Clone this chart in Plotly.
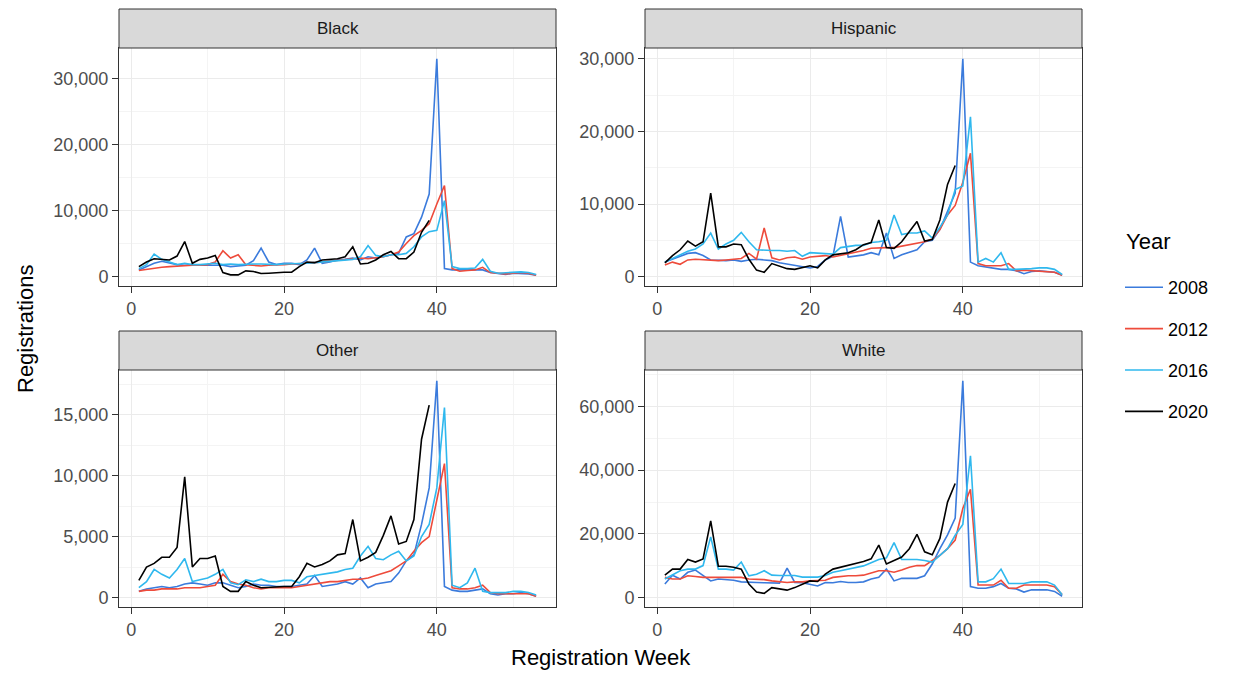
import plotly.graph_objects as go
from plotly.subplots import make_subplots

weeks = list(range(1, 54))
years = ["2008", "2012", "2016", "2020"]
year_colors = ["#3B7BDC", "#EE4B3B", "#2FB8EE", "#000000"]
races = ["Black", "Hispanic", "Other", "White"]

black_2008 = [1000, 1500, 2000, 2300, 2000, 1800, 1700, 1800, 1700, 1700,
              1800, 1700, 1500, 1600, 1700, 2400, 4300, 2200, 1800, 2000,
              2000, 1800, 2500, 4300, 2000, 2200, 2500, 2600, 2800, 2500,
              3000, 2800, 3000, 3200, 3500, 6000, 6500, 9000, 12500, 33000,
              1200, 1000, 1000, 1000, 1100, 1000, 600, 500, 300, 500, 500, 400, 200]
black_2012 = [900, 1100, 1300, 1400, 1500, 1600, 1600, 1700, 1700, 1800,
              2200, 3900, 2800, 3300, 1800, 1700, 1600, 1700, 1700, 1800,
              1900, 1900, 2000, 2100, 2200, 2300, 2500, 2600, 2700, 2800,
              2700, 2800, 3000, 3300, 3700, 5000, 6200, 7000, 8000, 11000,
              13800, 1200, 800, 900, 1000, 1400, 600, 500, 400, 500, 600, 500, 200]
black_2016 = [1200, 1800, 3400, 2600, 2200, 1800, 2000, 1800, 1800, 1900,
              2000, 1800, 1900, 1800, 1900, 1900, 1900, 1800, 1800, 1900,
              1900, 1900, 2000, 2100, 2200, 2300, 2400, 2500, 2600, 3000,
              4700, 3200, 3000, 3300, 3300, 3500, 4500, 6000, 6800, 7000,
              11500, 1500, 1200, 1200, 1300, 2600, 800, 500, 600, 700, 700, 600, 300]
black_2020 = [1500, 2200, 2700, 2600, 2500, 3100, 5300, 2000, 2600, 2800,
              3200, 600, 250, 250, 850, 750, 450, 500, 600, 650,
              650, 1500, 2200, 2100, 2500, 2600, 2700, 3000, 4500, 1900,
              2000, 2500, 3300, 3800, 2700, 2700, 3700, 6700, 8500]

hispanic_2008 = [2000, 2400, 2800, 3200, 3300, 2900, 2300, 2200, 2200, 2300,
                 2100, 2300, 2400, 2300, 2200, 1900, 1700, 1500, 1400, 1200,
                 1400, 2300, 2800, 8300, 2700, 2800, 3000, 3300, 3000, 6000,
                 2500, 3000, 3300, 3700, 4800, 5000, 6500, 9000, 11500, 30000,
                 2000, 1500, 1300, 1200, 1000, 1000, 800, 400, 700, 800, 700, 600, 200]
hispanic_2012 = [1600, 2000, 1700, 2300, 2400, 2300, 2200, 2200, 2300, 2400,
                 2500, 3200, 2400, 6700, 2600, 2300, 2600, 2700, 2400, 2700,
                 2800, 2900, 2700, 2900, 3200, 3300, 3600, 3900, 4000, 4000,
                 4000, 4200, 4400, 4600, 4800, 5200, 6500, 8500, 9800, 13000,
                 17000, 1800, 1500, 1500, 1500, 1800, 800, 900, 800, 700, 700, 600, 200]
hispanic_2016 = [2000, 2500, 3000, 3500, 3800, 4500, 6000, 3800, 4500, 5000,
                 6100, 4800, 3700, 3600, 3600, 3600, 3500, 3600, 2800, 3300,
                 3200, 3200, 3100, 4000, 4200, 4300, 4300, 4700, 4800, 5000,
                 8500, 5800, 6000, 6000, 6300, 5300, 6800, 8500, 12000, 12500,
                 22000, 2000, 2500, 2000, 3300, 1000, 1000, 1000, 1100, 1200, 1200, 1000, 300]
hispanic_2020 = [1900, 2900, 3700, 4900, 4200, 4800, 11500, 4100, 4100, 4500,
                 4400, 2400, 900, 600, 1800, 1400, 1100, 1000, 1300, 1500,
                 1200, 2300, 3000, 3100, 3300, 3700, 4400, 4700, 7800, 4000,
                 3900, 4800, 6200, 7600, 4900, 5100, 7800, 12700, 15300]

other_2008 = [500, 700, 800, 900, 800, 900, 1100, 1200, 1100, 1000,
              1200, 1200, 1000, 800, 900, 1100, 1000, 1000, 900, 900,
              900, 1000, 1100, 1800, 900, 1000, 1100, 1300, 1100, 1600,
              800, 1100, 1200, 1300, 2000, 3000, 3500, 6000, 9000, 17800,
              900, 600, 500, 500, 600, 700, 300, 200, 300, 300, 400, 300, 100]
other_2012 = [500, 600, 600, 700, 700, 700, 800, 800, 800, 900,
              1000, 1900, 1300, 1100, 1000, 800, 700, 800, 800, 800,
              800, 900, 1000, 1100, 1200, 1300, 1300, 1400, 1500, 1500,
              1600, 1800, 2000, 2200, 2600, 3000, 3800, 4500, 5000, 8000,
              11000, 800, 700, 700, 800, 1000, 400, 300, 300, 300, 300, 300, 100]
other_2016 = [800, 1300, 2300, 1900, 1600, 2300, 3200, 1300, 1450, 1600,
              1900, 2300, 1200, 1050, 1450, 1300, 1500, 1300, 1300, 1400,
              1400, 1200, 1700, 1800, 1950, 2000, 2100, 2300, 2400, 3400,
              4200, 3200, 3100, 3500, 3800, 3000, 3400, 5000, 6000, 9000,
              15600, 1000, 800, 1200, 2400, 500, 400, 400, 400, 500, 500, 400, 200]
other_2020 = [1400, 2500, 2800, 3300, 3300, 4100, 9900, 2500, 3200, 3200,
              3400, 900, 500, 500, 1300, 1000, 800, 850, 850, 900,
              900, 1700, 2800, 2500, 2700, 3000, 3500, 3600, 6400, 3000,
              3300, 3700, 5100, 6700, 4400, 4600, 6400, 13000, 15800]

white_2008 = [4300, 7100, 5900, 8000, 8700, 6900, 5300, 5900, 5700, 5500,
              5000, 4800, 4800, 4700, 4700, 4600, 9300, 4800, 4700, 4300,
              3700, 4800, 4700, 5100, 4800, 4800, 5000, 5900, 6400, 9000,
              5300, 6100, 6100, 6100, 6900, 10600, 15400, 19700, 25000, 68000,
              3500, 3000, 3000, 3500, 4500, 3000, 2800, 1800, 2500, 2500, 2500, 2000, 500]
white_2012 = [6400, 5900, 5900, 6900, 6700, 6400, 6400, 6400, 6400, 6400,
              6400, 5900, 5900, 5700, 5300, 5000, 4800, 5000, 5000, 5300,
              5300, 5500, 6400, 6700, 6900, 6900, 7100, 7800, 8500, 8500,
              8000, 8700, 9600, 10100, 10100, 11700, 13300, 15400, 18100, 28000,
              34000, 4000, 4000, 4000, 5500, 3000, 3000, 4000, 4000, 4000, 4000, 3500, 1000]
white_2016 = [5900, 7100, 8500, 9000, 9000, 10100, 19100, 9000, 9000, 8700,
              11200, 6900, 7400, 8500, 7100, 7000, 7000, 7000, 6500, 6500,
              6500, 7000, 8000, 8500, 9000, 9500, 10000, 11000, 12000, 12500,
              17300, 12000, 12000, 12000, 11700, 11200, 13300, 15400, 19600, 23000,
              44500, 5000, 5000, 6000, 9000, 4500, 4500, 4500, 5000, 5000, 5000, 4000, 1000]
white_2020 = [7100, 9000, 9000, 12000, 11200, 12200, 24100, 9900, 9900, 9600,
              9000, 4300, 1800, 1400, 3200, 2900, 2400, 3200, 4300, 5300,
              5100, 7400, 9000, 9600, 10100, 10900, 11400, 12200, 16500, 10600,
              11700, 12800, 15400, 19900, 14400, 13500, 18600, 30000, 35800]

series = {
    "Black": [black_2008, black_2012, black_2016, black_2020],
    "Hispanic": [hispanic_2008, hispanic_2012, hispanic_2016, hispanic_2020],
    "Other": [other_2008, other_2012, other_2016, other_2020],
    "White": [white_2008, white_2012, white_2016, white_2020],
}
y_ticks = {
    "Black": [0, 10000, 20000, 30000],
    "Hispanic": [0, 10000, 20000, 30000],
    "Other": [0, 5000, 10000, 15000],
    "White": [0, 20000, 40000, 60000],
}
x_ticks = [0, 20, 40]

# the page body adds an 8px margin, so the figure is laid out in screen pixels minus that
OFF = 8
W, H = 1236 - OFF, 675 - OFF
FONT = "Liberation Sans, Arial, sans-serif"


def px(x):
    return (x - OFF) / W


def py(y):
    return 1 - (y - OFF) / H


# panel boxes in screen pixels: (left, right), (top, bottom); strip sits above
cols_px = [(119, 556), (645, 1082)]
rows_px = [(48, 286), (370, 607)]
strip_h = 39

fig = make_subplots(rows=2, cols=2)

for i, race in enumerate(races):
    r, c = divmod(i, 2)
    for j, yr in enumerate(years):
        vals = series[race][j]
        fig.add_trace(go.Scatter(
            x=weeks[:len(vals)], y=vals, mode="lines", name=yr,
            legendgroup=yr, showlegend=(i == 0),
            line=dict(color=year_colors[j], width=1.6),
        ), row=r + 1, col=c + 1)

    x0, x1 = cols_px[c]
    y0, y1 = rows_px[r]
    xa = "xaxis" if i == 0 else "xaxis%d" % (i + 1)
    ya = "yaxis" if i == 0 else "yaxis%d" % (i + 1)

    allv = [v for s in series[race] for v in s]
    lo, hi = min(allv), max(allv)
    pad = 0.05 * (hi - lo)
    yt = y_ticks[race]
    minor_y = [(a + b) / 2 for a, b in zip(yt, yt[1:])] + [yt[-1] + (yt[1] - yt[0]) / 2]

    common = dict(
        showline=True, linecolor="#333333", linewidth=1, mirror=True,
        showgrid=True, gridcolor="#EBEBEB", gridwidth=1.2, zeroline=False,
        ticks="outside", ticklen=6, tickcolor="#333333", tickwidth=1,
        tickfont=dict(family=FONT, size=18, color="#4D4D4D"),
    )
    fig.layout[xa].update(
        domain=[px(x0), px(x1)], range=[1 - 0.05 * 52, 53 + 0.05 * 52],
        tickvals=x_ticks,
        minor=dict(tickvals=[10, 30, 50], showgrid=True, gridcolor="#F4F4F4", gridwidth=0.8, ticks=""),
        **common)
    fig.layout[ya].update(
        domain=[py(y1), py(y0)], range=[lo - pad, hi + pad],
        tickvals=yt, tickformat=",",
        minor=dict(tickvals=minor_y, showgrid=True, gridcolor="#F4F4F4", gridwidth=0.8, ticks=""),
        **common)

    # facet strip
    fig.add_shape(type="rect", xref="paper", yref="paper",
                  x0=px(x0), x1=px(x1), y0=py(y0), y1=py(y0 - strip_h),
                  fillcolor="#D9D9D9", line=dict(color="#333333", width=1), layer="above")
    fig.add_annotation(x=px((x0 + x1) / 2), y=py(y0 - strip_h / 2),
                       xref="paper", yref="paper", text=race, showarrow=False,
                       xanchor="center", yanchor="middle",
                       font=dict(family=FONT, size=17, color="#1A1A1A"))

fig.add_annotation(x=px(601), y=py(657), xref="paper", yref="paper",
                   text="Registration Week", showarrow=False,
                   xanchor="center", yanchor="middle",
                   font=dict(family=FONT, size=22, color="#000000"))
fig.add_annotation(x=px(25), y=py(329), xref="paper", yref="paper",
                   text="Registrations", showarrow=False, textangle=-90,
                   xanchor="center", yanchor="middle",
                   font=dict(family=FONT, size=22, color="#000000"))
# legend title placed by hand to get ggplot's gap under it
fig.add_annotation(x=px(1124), y=py(242), xref="paper", yref="paper",
                   text="Year", showarrow=False,
                   xanchor="left", yanchor="middle",
                   font=dict(family=FONT, size=22, color="#000000"))

fig.update_layout(
    width=W, height=H,
    margin=dict(l=0, r=0, t=0, b=0),
    paper_bgcolor="white", plot_bgcolor="white",
    font=dict(family=FONT),
    legend=dict(
        font=dict(family=FONT, size=18, color="#000000"),
        x=px(1120), y=py(269), xanchor="left", yanchor="top",
        traceorder="grouped", tracegroupgap=15, itemwidth=38,
        bgcolor="rgba(0,0,0,0)",
    ),
)

fig.write_html("out.html")
